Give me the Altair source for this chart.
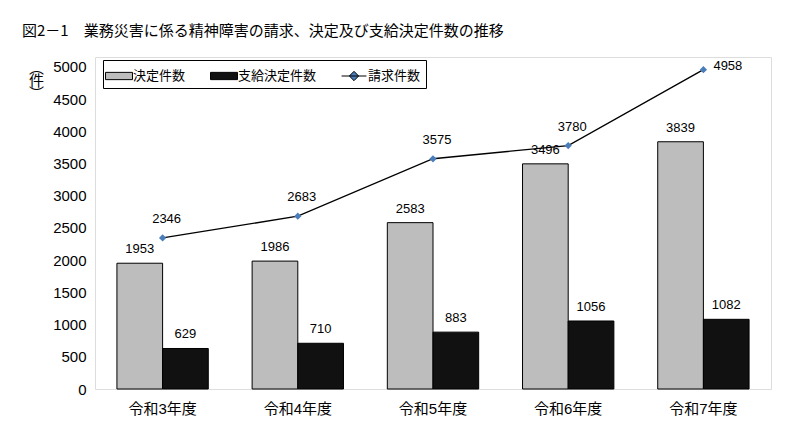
import altair as alt
import pandas as pd

years = ['令和3年度', '令和4年度', '令和5年度', '令和6年度', '令和7年度']
decided = [1953, 1986, 2583, 3496, 3839]
paid = [629, 710, 883, 1056, 1082]
claims = [2346, 2683, 3575, 3780, 4958]

series = ['決定件数', '支給決定件数', '請求件数']
colors = ['#bdbdbd', '#111111', '#4a7ebb']
shapes = ['M-1.3,-0.35H1.3V0.35H-1.3Z', 'M-1.3,-0.35H1.3V0.35H-1.3Z',
          'M-1.2,0H1.2M0,-0.45L0.45,0L0,0.45L-0.45,0Z']

FONT = 'Liberation Sans, Arial, Noto Sans CJK JP'
JP = 'Noto Sans CJK JP'

bars_df = pd.DataFrame({
    'year': years * 2,
    'series': [series[0]] * 5 + [series[1]] * 5,
    'value': decided + paid,
})
line_df = pd.DataFrame({'year': years, 'series': series[2], 'value': claims})

x = alt.X('year:N', sort=years, title=None,
          scale=alt.Scale(paddingInner=0, paddingOuter=0),
          axis=alt.Axis(labelAngle=0, labelFont=FONT, labelFontSize=15, labelColor='black',
                        labelPadding=12, ticks=False, domain=False))
y = alt.Y('value:Q', title=['︵', '件', '︶'],
          scale=alt.Scale(domain=[0, 5155], nice=False),
          axis=alt.Axis(values=list(range(0, 5001, 500)), format='d', grid=False, ticks=False,
                        domain=False, labelFont=FONT, labelFontSize=15, labelColor='black',
                        labelPadding=9, titleAngle=0, titleFont=JP, titleFontSize=15,
                        titleFontWeight='normal', titleX=-59, titleY=3, titleAlign='center',
                        titleBaseline='top', titleLineHeight=13))
color = alt.Color('series:N', scale=alt.Scale(domain=series, range=colors),
                  legend=alt.Legend(title=None, orient='none', legendX=8, legendY=3,
                                    direction='horizontal', strokeColor='black', fillColor='white',
                                    padding=5, labelFont=JP, labelFontSize=13, labelColor='black',
                                    symbolSize=430, symbolStrokeColor='black', symbolStrokeWidth=1,
                                    columnPadding=22, labelOffset=3))
shape = alt.Shape('series:N', scale=alt.Scale(domain=series, range=shapes), legend=alt.Legend(title=None))

base_bar = alt.Chart(bars_df).encode(
    x=x, y=y,
    xOffset=alt.XOffset('series:N', sort=series[:2],
                        scale=alt.Scale(paddingInner=0, paddingOuter=0.48)),
)
bars = base_bar.mark_bar(stroke='black', strokeWidth=1).encode(color=color)
bar_text = base_bar.mark_text(baseline='bottom', dy=-7, font=FONT, fontSize=13, color='black').encode(
    text=alt.Text('value:Q', format='d'))

base_line = alt.Chart(line_df).encode(x=x, y=y)
line = base_line.mark_line(color='black', strokeWidth=1.3)
points = base_line.mark_point(filled=True, size=260, opacity=1).encode(color=color, shape=shape)
line_text = base_line.transform_filter('datum.value < 4500').mark_text(
    dx=4, dy=-19, font=FONT, fontSize=13, color='black').encode(text=alt.Text('value:Q', format='d'))
top_text = base_line.transform_filter('datum.value >= 4500').mark_text(
    align='left', dx=10, dy=-4, font=FONT, fontSize=13, color='black').encode(
    text=alt.Text('value:Q', format='d'))

chart = alt.layer(bars, bar_text, line, points, line_text, top_text).properties(
    width=676, height=332,
    autosize=alt.AutoSizeParams(type='none'),
    padding={'left': 87, 'top': 49, 'right': 21, 'bottom': 34},
    title=alt.TitleParams('図2－1　業務災害に係る精神障害の請求、決定及び支給決定件数の推移',
                          anchor='start', frame='group', font=JP, fontSize=15, fontWeight='normal',
                          color='black', dx=-73, offset=18),
).configure_view(stroke='black', strokeWidth=1.5).configure(background='white')

chart.save('out.html', embed_options={'renderer': 'svg', 'actions': False})
